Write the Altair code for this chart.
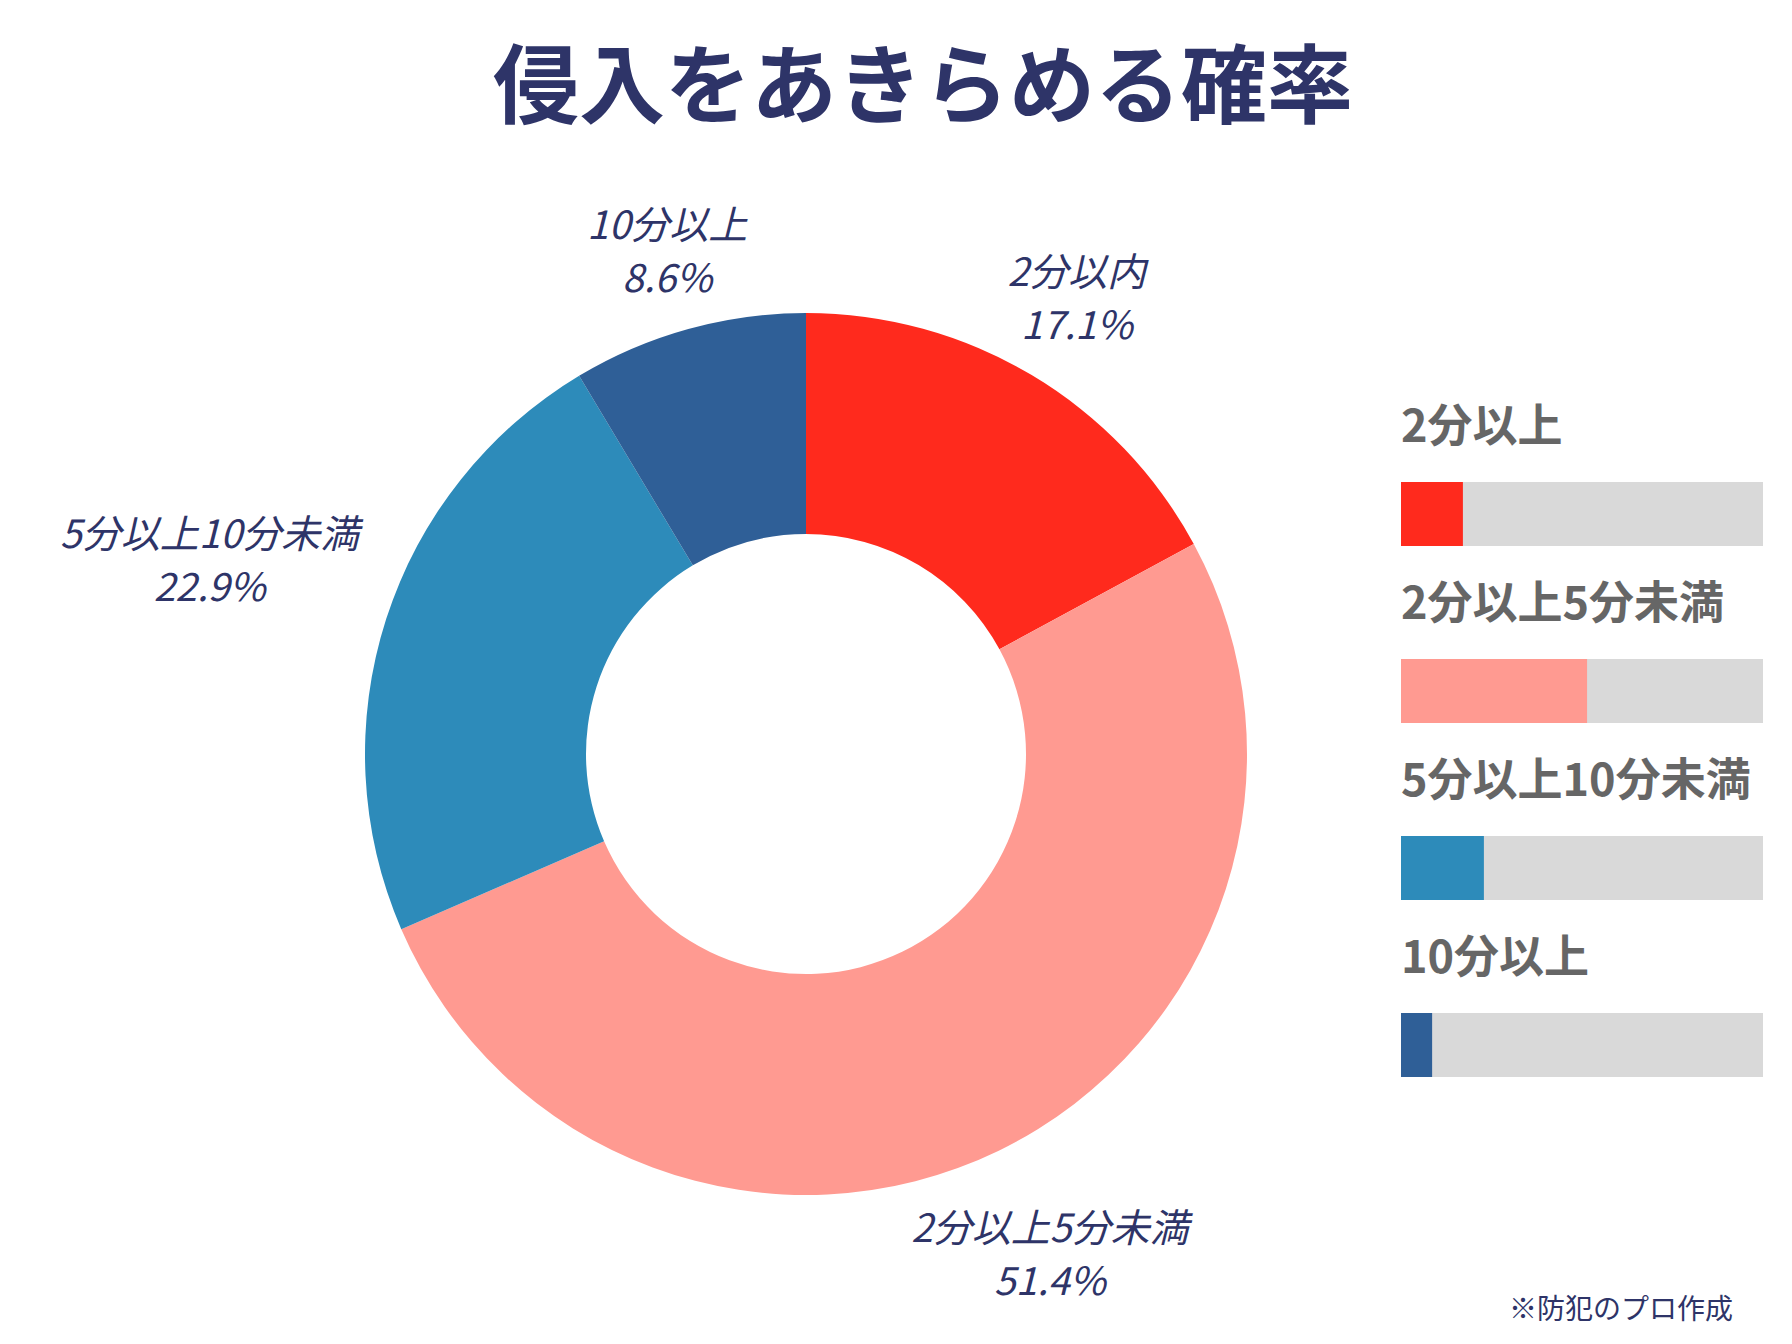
import altair as alt
import pandas as pd

# ---- data ----
categories = ["2分以内", "2分以上5分未満", "5分以上10分未満", "10分以上"]
values = [17.1, 51.4, 22.9, 8.6]
legend_labels = ["2分以上", "2分以上5分未満", "5分以上10分未満", "10分以上"]
colors = ["#FF2A1D", "#FF9A91", "#2D8BBA", "#2F5F97"]
title_text = ["侵入をあきらめる確率"]
note_text = ["※防犯のプロ作成"]

df = pd.DataFrame({
    "cat": categories,
    "v": values,
    "idx": list(range(len(categories))),
    "lcat": legend_labels,
})

# ---- layout ----
W, H = 1770, 1324
CX, CY = 798, 746
R_OUT, R_IN = 441, 220
NAVY = "#2E3468"
GRAY_TXT = "#666666"
FONT = "Noto Sans CJK JP"
BAR_X0, BAR_X1 = 1393, 1755
BAR_Y0, BAR_Y1 = 506, 1037

base = alt.Chart(df)
color = alt.Color("cat:N", scale=alt.Scale(domain=categories, range=colors), legend=None)

donut = base.mark_arc(innerRadius=R_IN, outerRadius=R_OUT).encode(
    theta=alt.Theta("v:Q", stack=True),
    order=alt.Order("idx:Q"),
    color=color,
    x=alt.value(CX),
    y=alt.value(CY),
)

lab = (
    base.transform_window(cum="sum(v)", sort=[alt.SortField("idx")], frame=[None, 0])
    .transform_joinaggregate(total="sum(v)")
    .transform_calculate(a="2*PI*(datum.cum - datum.v/2)/datum.total")
    .transform_calculate(
        lr=f"{R_OUT + 13} + 18.6*length(datum.cat)*abs(sin(datum.a)) + 43*abs(cos(datum.a))"
    )
    .transform_calculate(
        lx=f"{CX} + datum.lr*sin(datum.a)",
        ly=f"{CY} - datum.lr*cos(datum.a)",
        pct="format(datum.v, '.1f') + '%'",
    )
)
lab_style = dict(font=FONT, fontSize=39, fontStyle="italic", color=NAVY,
                 align="center", baseline="middle")
lab1 = lab.mark_text(dy=-26, **lab_style).encode(
    x=alt.X("lx:Q", scale=None, axis=None),
    y=alt.Y("ly:Q", scale=None, axis=None),
    text="cat:N",
)
lab2 = lab.mark_text(dy=27, **lab_style).encode(
    x=alt.X("lx:Q", scale=None, axis=None),
    y=alt.Y("ly:Q", scale=None, axis=None),
    text="pct:N",
)

# ---- custom legend with bars ----
bx = alt.Scale(domain=[0, 100], range=[BAR_X0, BAR_X1], nice=False, padding=0)
by = alt.Scale(domain=[0, len(categories) - 1], range=[BAR_Y0, BAR_Y1],
               nice=False, zero=False, padding=0)

bg = base.transform_calculate(full="100").mark_bar(
    size=64, color="#D9D9D9", orient="horizontal"
).encode(
    x=alt.X("full:Q", scale=bx, axis=None),
    y=alt.Y("idx:Q", scale=by, axis=None),
)
fg = base.mark_bar(size=64, orient="horizontal").encode(
    x=alt.X("v:Q", scale=bx, axis=None),
    y=alt.Y("idx:Q", scale=by, axis=None),
    color=color,
)
leg_txt = base.mark_text(
    font=FONT, fontSize=45, fontWeight="bold", color=GRAY_TXT,
    align="left", baseline="middle", dy=-86,
).encode(
    x=alt.value(BAR_X0),
    y=alt.Y("idx:Q", scale=by, axis=None),
    text="lcat:N",
)

title = alt.Chart(pd.DataFrame({"t": title_text})).mark_text(
    font=FONT, fontSize=86, fontWeight="bold", color=NAVY,
    align="center", baseline="middle",
).encode(text="t:N", x=alt.value(915), y=alt.value(83))

note = alt.Chart(pd.DataFrame({"t": note_text})).mark_text(
    font=FONT, fontSize=28, color=NAVY, align="right", baseline="middle",
).encode(text="t:N", x=alt.value(1725), y=alt.value(1303))

chart = (
    alt.layer(donut, lab1, lab2, bg, fg, leg_txt, title, note)
    .resolve_scale(x="independent", y="independent")
    .properties(width=W, height=H, autosize=alt.AutoSizeParams(type="none"), padding=0)
    .configure_view(strokeWidth=0)
)

chart.save("out.html", embed_options={"renderer": "svg", "actions": False})
